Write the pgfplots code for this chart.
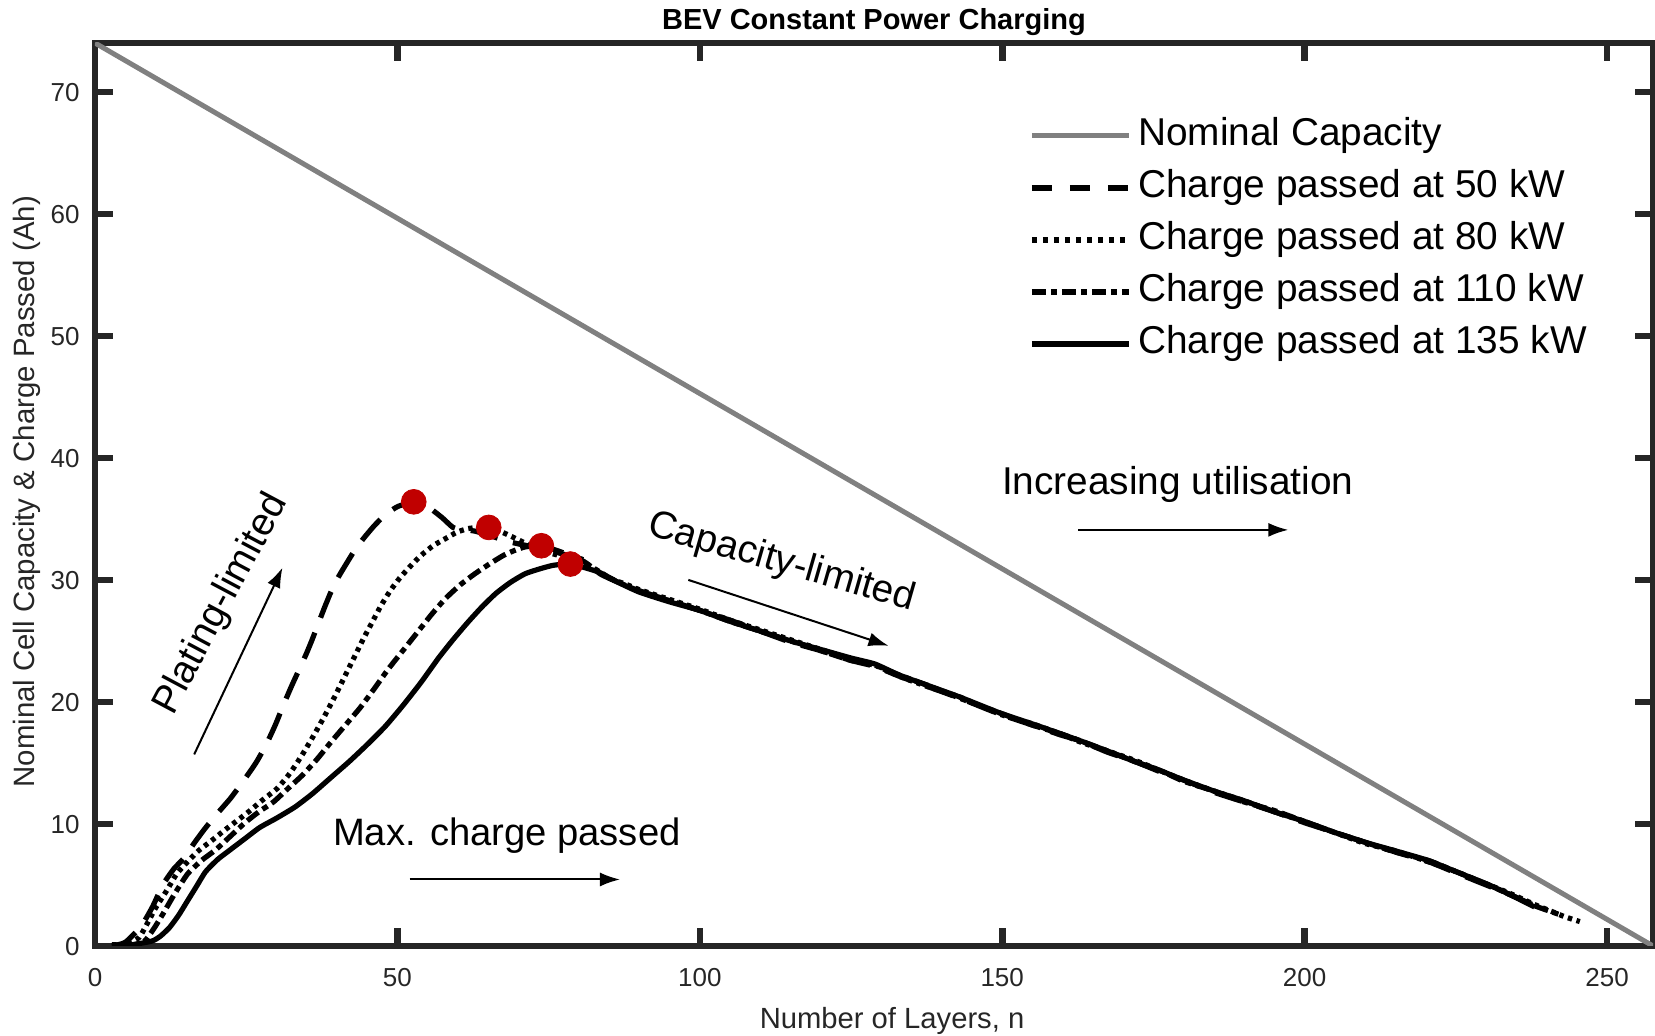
\documentclass[border=0pt]{standalone}
\usepackage{pgfplots}
\pgfplotsset{compat=1.18}
\usepackage{fontspec}
\setmainfont{Liberation Sans}
\usetikzlibrary{arrows.meta}
\definecolor{axgray}{HTML}{262626}
\definecolor{nomgray}{HTML}{808080}
\definecolor{dotred}{HTML}{C00000}
\begin{document}
\begin{tikzpicture}
\begin{axis}[name=ax, at={(0,0)}, anchor=south west,
 scale only axis, width=779pt, height=451.5pt,
 xmin=0, xmax=257.6, ymin=0, ymax=74,
 xtick={0,50,...,250}, ytick={0,10,...,70},
 axis line style={line width=3.3pt, color=axgray},
 every tick/.style={line width=3.3pt, color=axgray},
 major tick length=9pt, tick align=inside,
 /pgf/number format/assume math mode=true,
 tick label style={font=\fontsize{13}{15}\selectfont, text=axgray},
 xticklabel style={anchor=base, inner sep=0pt, yshift=-20.2pt},
 yticklabel style={anchor=base east, inner sep=0pt, xshift=-7.5pt, yshift=-4.65pt},
 title={BEV Constant Power Charging},
 every axis title/.style={at={(axis description cs:0.5,1.0151)}, anchor=base, font=\bfseries\fontsize{14.5}{17}\selectfont},
 xlabel={Number of Layers, n},
 every axis x label/.style={at={(axis description cs:0.5116,-0.0919)}, anchor=base, font=\fontsize{14.6}{17}\selectfont, text=axgray},
 ylabel={Nominal Cell Capacity \& Charge Passed (Ah)},
 every axis y label/.style={at={(axis description cs:-0.0386,0.503)}, rotate=90, anchor=base, font=\fontsize{14.7}{17}\selectfont, text=axgray},
 legend image code/.code={\draw[#1] (0pt,0pt) -- (48.5pt,0pt);},
 legend cell align=left,
 legend style={draw=none, fill=none, at={(0.5996,0.917)}, anchor=north west, inner sep=0pt, outer sep=0pt,
   font=\fontsize{19.4}{23}\selectfont, row sep=8pt,
   nodes={inner sep=0pt, text height=14pt, text depth=4pt},
   /tikz/every odd column/.append style={column sep=3.4pt}},
 clip mode=individual,
]
\addlegendimage{nomgray, line width=2.5pt}
\addlegendentry{Nominal Capacity}
\addlegendimage{black, line width=2.6pt, dash pattern=on 10pt off 9pt}
\addlegendentry{Charge passed at 50 kW}
\addlegendimage{black, line width=2.6pt, dash pattern=on 2.5pt off 3pt}
\addlegendentry{Charge passed at 80 kW}
\addlegendimage{black, line width=2.6pt, dash pattern=on 7pt off 2.5pt on 3pt off 2.5pt}
\addlegendentry{Charge passed at 110 kW}
\addlegendimage{black, line width=2.6pt}
\addlegendentry{Charge passed at 135 kW}

\addplot[forget plot, nomgray, line width=2.5pt] coordinates {(0,74) (257.6,0)};

% 50 kW
\addplot[forget plot, black, line width=2.6pt, dash pattern=on 14pt off 8pt, smooth, tension=0.35] coordinates {
(2.8,0)(5,0.3)(7.6,1.6)(9.5,3.2)(11.2,5.0)(13,6.3)(14.7,7.2)(16.5,8.5)(18.3,9.7)(20.3,10.9)(22.4,12.1)(24.5,13.5)(26.6,15.0)(28.3,16.5)(29.8,18.1)(31.2,19.8)(32.5,21.3)(33.7,22.6)(34.9,23.9)(35.9,25.1)(36.9,26.4)(38,27.8)(39,29.0)(40.2,30.2)(41.4,31.2)(42.9,32.4)(44.4,33.4)(46.1,34.4)(47.9,35.3)(50,36.0)(52.7,36.4)(55,36.0)(57.4,35.1)(59.2,34.3)(61,34.1)(62.8,34.0)(65.5,33.6)(68.7,33.1)(71.5,32.8)(74.6,32.5)(77.5,32.1)(80.5,31.7)(82,31.2)(83.5,30.5)(86.5,29.8)(90,29.1)(95,28.3)(100,27.5)(105,26.7)(110,25.8)(115,24.9)(120,24.2)(125,23.4)(129,22.9)(133,22.1)(138,21.2)(143,20.3)(149.6,19.0)(155,18.1)(159.6,17.3)(163,16.8)(167.3,15.9)(172,15.1)(176,14.3)(180,13.6)(185,12.6)(190,11.8)(195,11.0)(200,10.1)(205,9.3)(210,8.5)(215,7.7)(220.5,6.9)(225,6.0)(230,5.0)(234,4.2)(238.5,3.2)};

% 80 kW
\addplot[forget plot, black, line width=2.6pt, dash pattern=on 2.2pt off 2.3pt, smooth, tension=0.35] coordinates {
(4,0)(5.5,0.2)(7.3,0.7)(8.7,1.9)(10,3.1)(11.8,4.5)(13.5,5.9)(15.3,6.9)(17.1,7.8)(19.2,8.6)(21.2,9.4)(23.3,10.2)(25.4,11.0)(27.8,12.0)(30.1,12.9)(32.3,14.2)(34.3,15.7)(36.1,17.2)(37.8,18.7)(39.6,20.4)(41.4,22.2)(42.9,23.7)(44.4,25.2)(45.9,26.6)(47.3,27.9)(48.8,29.1)(50.3,30.1)(52.1,31.1)(53.9,32.0)(55.9,32.8)(58.0,33.4)(59.8,33.9)(61.6,34.2)(63.4,34.3)(65.1,34.3)(66.9,34.0)(68.7,33.6)(71.6,32.9)(74.6,32.3)(77.5,31.9)(80.5,31.5)(83,30.8)(85.3,30.1)(88,29.6)(90,29.2)(95,28.4)(100,27.6)(105,26.7)(110,25.9)(115,25.1)(120,24.3)(125,23.5)(129,23.0)(133,22.1)(138,21.2)(143,20.4)(149.6,19.0)(155,18.2)(159.6,17.4)(163,16.7)(167.3,16.0)(172,15.2)(176,14.4)(180,13.6)(185,12.7)(190,11.9)(195,11.0)(200,10.2)(205,9.3)(210,8.4)(215,7.8)(220.5,6.9)(225,6.1)(230,5.1)(234,4.3)(238,3.4)(241,2.8)(243,2.4)(245.5,2.0)};

% 110 kW
\addplot[forget plot, black, line width=2.6pt, dash pattern=on 7pt off 2.5pt on 3pt off 2.5pt, smooth, tension=0.35] coordinates {
(5,0)(6.5,0.1)(8.2,0.4)(9.7,1.4)(11.2,2.6)(13.2,4.3)(15.3,5.9)(17.6,7.0)(20.0,7.9)(22.4,9.0)(24.8,10.1)(27.1,11.0)(29.5,11.8)(31.9,12.9)(34.3,14.0)(36.7,15.3)(39.0,16.7)(41.4,18.1)(43.8,19.5)(46.2,21.1)(48.5,22.7)(50.9,24.2)(53.3,25.7)(55.7,27.2)(58.0,28.5)(60.4,29.6)(62.8,30.5)(65.2,31.3)(67.5,32.0)(69.3,32.4)(71.1,32.7)(73.8,32.8)(77,32.3)(80.5,31.6)(82.3,31.0)(84.1,30.4)(87,29.7)(90,29.1)(95,28.3)(100,27.5)(105,26.6)(110,25.8)(115,25.0)(120,24.2)(125,23.4)(129,23.0)(133,22.2)(138,21.3)(143,20.3)(149.6,19.1)(155,18.1)(159.6,17.4)(163,16.8)(167.3,16.0)(172,15.1)(176,14.4)(180,13.5)(185,12.7)(190,11.8)(195,11.1)(200,10.2)(205,9.3)(210,8.5)(215,7.7)(220.5,7.0)(225,6.1)(230,5.1)(234,4.2)(238,3.3)(242,2.6)};

% 135 kW
\addplot[forget plot, black, line width=2.6pt, smooth, tension=0.35] coordinates {
(2.8,0.1)(6,0.1)(9.4,0.4)(10.8,0.8)(12.3,1.5)(13.8,2.5)(15.3,3.7)(16.8,4.9)(18.3,6.1)(20.3,7.1)(22.4,7.9)(24.8,8.8)(27.2,9.7)(30.1,10.5)(33.1,11.4)(36,12.5)(39.0,13.8)(42,15.1)(45.0,16.5)(48,18.0)(50.9,19.7)(53.9,21.6)(56.8,23.6)(59.2,25.1)(61.6,26.5)(64,27.8)(66.3,28.9)(68.7,29.8)(71.1,30.5)(73.5,30.9)(75.8,31.2)(78.6,31.3)(81,31.0)(83.5,30.6)(86.5,29.8)(90,29.0)(95,28.2)(100,27.5)(105,26.6)(110,25.8)(115,25.0)(120,24.3)(125,23.6)(129,23.1)(133,22.2)(138,21.3)(143,20.4)(149.6,19.1)(155,18.2)(159.6,17.4)(163,16.8)(167.3,16.0)(172,15.1)(176,14.4)(180,13.6)(185,12.7)(190,11.9)(195,11.0)(200,10.2)(205,9.3)(210,8.5)(215,7.8)(220.5,7.0)(225,6.1)(230,5.1)(234,4.2)(238,3.2)};

% peaks
\addplot[forget plot, only marks, mark=*, mark size=6.2pt, color=dotred] coordinates {(52.7,36.4)(65.1,34.3)(73.8,32.8)(78.6,31.3)};

% annotations
\draw[-{Latex[length=10pt,width=7pt]}, line width=1pt] (axis cs:16.4,15.7) -- (axis cs:31.0,31.0);
\node[rotate=62, font=\fontsize{19.4}{23}\selectfont] at (axis cs:20.9,28.0) {Plating-limited};
\draw[-{Latex[length=10pt,width=7pt]}, line width=1pt] (axis cs:98.1,30.0) -- (axis cs:131.2,24.6);
\node[rotate=-16, font=\fontsize{19.4}{23}\selectfont] at (axis cs:113.5,31.4) {Capacity-limited};
\draw[-{Latex[length=10pt,width=7pt]}, line width=1pt] (axis cs:52.0,5.45) -- (axis cs:86.8,5.45);
\node[anchor=base west, inner sep=0pt, font=\fontsize{19.1}{23}\selectfont] at (axis cs:39.3,8.25) {Max. charge passed};
\draw[-{Latex[length=10pt,width=7pt]}, line width=1pt] (axis cs:162.6,34.1) -- (axis cs:197.3,34.1);
\node[anchor=base west, inner sep=0pt, font=\fontsize{19.4}{23}\selectfont] at (axis cs:149.9,37.0) {Increasing utilisation};
\end{axis}
\pgfresetboundingbox
\path[use as bounding box] (ax.south west) ++(-47.5pt,-45pt) rectangle ([xshift=1pt,yshift=21.5pt]ax.north east);
\end{tikzpicture}
\end{document}
